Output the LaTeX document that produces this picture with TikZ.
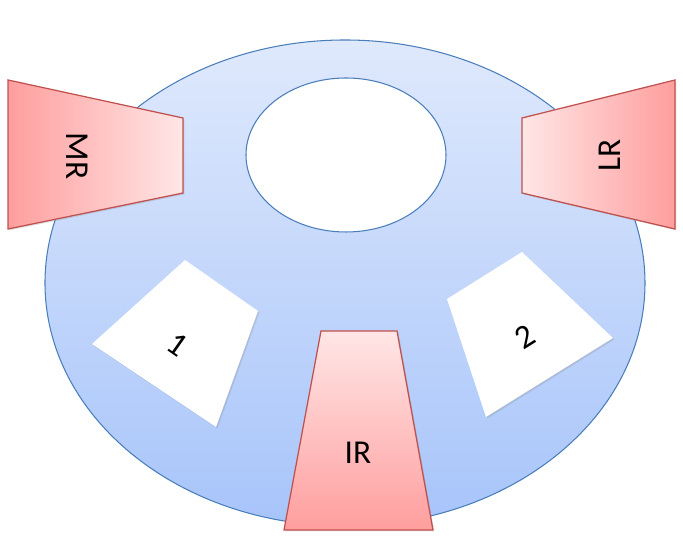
\documentclass[tikz,border=0pt]{standalone}
\usepackage{fontspec}
\setmainfont{Carlito}
\usepackage{tikz}
\usetikzlibrary{shadows}

\definecolor{rimblue}{HTML}{4A7EBB}
\definecolor{paleblue}{HTML}{DFE9FC}
\definecolor{deepblue}{HTML}{A7C4FA}
\definecolor{rimred}{HTML}{C0504D}
\definecolor{deeppink}{HTML}{FF9E9E}
\definecolor{palepink}{HTML}{FFE6E6}

\tikzset{
  rimline/.style={draw=rimblue, line width=0.3pt},
  pinkroom/.style={draw=rimred, line width=0.35pt,
    drop shadow={shadow xshift=0.4pt, shadow yshift=-0.4pt, opacity=0.25}},
  whiteroom/.style={fill=white,
    drop shadow={shadow xshift=0.4pt, shadow yshift=-0.4pt, opacity=0.25}},
  roomlabel/.style={font=\fontsize{9.5}{11}\selectfont, inner sep=0pt}
}

\begin{document}
\begin{tikzpicture}
\useasboundingbox (0,0) rectangle (6.83,5.43);
% hall
\shade[rimline, top color=paleblue, bottom color=deepblue] (3.45,2.60) ellipse (3.00 and 2.43);
\filldraw[rimline, fill=white] (3.46,3.88) ellipse (1.00 and 0.77);
% side rooms
\shade[pinkroom, left color=deeppink, right color=palepink] (0.08,4.63) -- (1.83,4.25) -- (1.83,3.50) -- (0.08,3.14) -- cycle;
\shade[pinkroom, left color=palepink, right color=deeppink] (5.22,4.25) -- (6.75,4.63) -- (6.75,3.14) -- (5.22,3.50) -- cycle;
\shade[pinkroom, top color=palepink, bottom color=deeppink] (3.21,2.12) -- (3.97,2.12) -- (4.33,0.13) -- (2.84,0.13) -- cycle;
% white rooms
\path[whiteroom] (1.85,2.83) -- (2.58,2.32) -- (2.16,1.16) -- (0.92,1.99) -- cycle;
\path[whiteroom] (5.22,2.91) -- (6.13,2.05) -- (4.86,1.26) -- (4.47,2.44) -- cycle;
% labels
\node[roomlabel, rotate=-90] (mr) at (0.77,3.87) {MR};
\node[roomlabel, rotate=90] (lr) at (6.10,3.88) {LR};
\node[roomlabel] (ir) at (3.58,0.90) {IR};
\node[roomlabel, rotate=-35] (one) at (1.78,1.98) {1};
\node[roomlabel, rotate=32] (two) at (5.25,2.06) {2};
\end{tikzpicture}
\end{document}
